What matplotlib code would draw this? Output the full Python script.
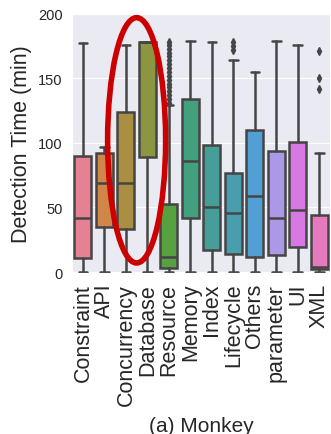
import matplotlib
matplotlib.use("Agg")
import matplotlib.pyplot as plt
from matplotlib.patches import Ellipse
import seaborn as sns

# values (detection time in minutes)
categories = ['Constraint', 'API', 'Concurrency', 'Database', 'Resource', 'Memory',
              'Index', 'Lifecycle', 'Others', 'parameter', 'UI', 'XML']
whis_lo = [0, 0, 0, 0, 0, 0, 0, 0, 0, 0, 0, 0]
q1 = [11, 35, 33, 89, 3, 42, 17, 14, 12, 13, 19, 2]
medians = [42, 69, 69, 178, 12, 86, 50, 46, 59, 42, 48, 4]
q3 = [90, 92, 124, 178, 53, 134, 98, 77, 110, 94, 101, 44]
whis_hi = [177, 97, 176, 178, 129, 179, 178, 164, 155, 179, 176, 92]
fliers = [[], [], [], [],
          [131, 134, 137, 140, 143, 146, 149, 152, 155, 158, 161, 164, 167, 170, 173, 176, 178],
          [], [], [172, 175, 178], [], [], [], [142, 150, 171]]

sns.set_style('darkgrid')
plt.rcParams['font.family'] = ['Liberation Sans', 'DejaVu Sans']

colors = [sns.desaturate(c, 0.75) for c in sns.husl_palette(len(categories))]
gray = '#454545'

stats = []
for i, name in enumerate(categories):
    stats.append({'label': name, 'whislo': whis_lo[i], 'q1': q1[i], 'med': medians[i],
                  'q3': q3[i], 'whishi': whis_hi[i], 'fliers': fliers[i]})

fig, ax = plt.subplots(figsize=(3.31, 4.35), dpi=100)
fig.subplots_adjust(left=0.218, right=0.997, top=0.966, bottom=0.37)

lw = 1.8
bp = ax.bxp(stats, positions=range(len(categories)), widths=0.8, patch_artist=True,
            boxprops={'edgecolor': gray, 'linewidth': lw},
            medianprops={'color': gray, 'linewidth': lw},
            whiskerprops={'color': gray, 'linewidth': lw},
            capprops={'color': gray, 'linewidth': lw},
            flierprops={'marker': 'd', 'markerfacecolor': gray, 'markeredgecolor': gray,
                        'markersize': 4})
for patch, c in zip(bp['boxes'], colors):
    patch.set_facecolor(c)
for cap in bp['caps']:
    x0, x1 = cap.get_xdata()
    mid = (x0 + x1) / 2
    cap.set_xdata([mid - 0.2, mid + 0.2])

ax.set_xlim(-0.5, len(categories) - 0.5)
ax.set_ylim(-0.8, 200)
ax.set_yticks([0, 50, 100, 150, 200])
ax.xaxis.grid(False)
ax.set_xticks(range(len(categories)))
ax.set_xticklabels(categories, rotation=90, fontsize=15.5)
ax.tick_params(axis='y', labelsize=10.5)
ax.set_ylabel('Detection Time (min)', fontsize=15.5)
ax.set_xlabel('(a) Monkey', fontsize=15, labelpad=8)

# red highlight around Concurrency / Database
ell = Ellipse((2.5, 102), width=2.7, height=190, fill=False, edgecolor='#cc0000',
              linewidth=4, clip_on=False, zorder=5)
ax.add_patch(ell)

fig.savefig('out.png', dpi=100)
